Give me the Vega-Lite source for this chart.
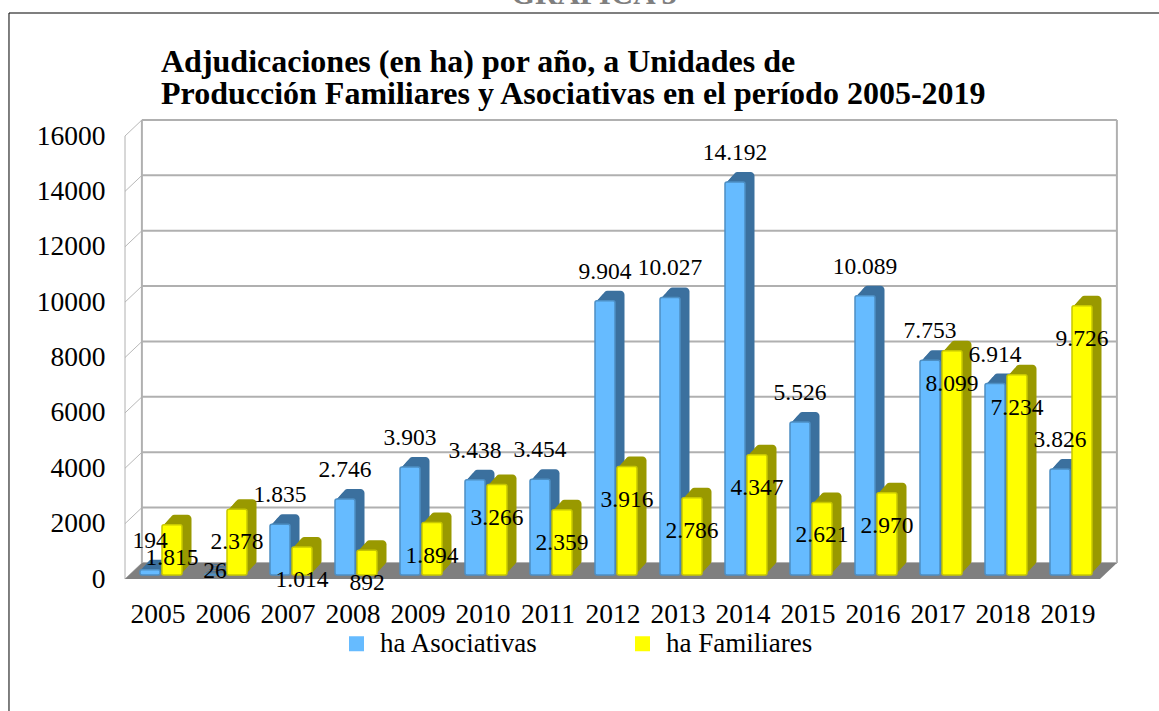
{
"$schema":"https://vega.github.io/schema/vega-lite/v6.json",
"width":975,"height":443,"autosize":{"type":"none"},
"padding":{"left":125,"top":136,"right":59,"bottom":132},
"background":"white",
"config":{"view":{"stroke":null},"locale":{"number":{"decimal":",","thousands":".","grouping":[3],"currency":["","€"]}}},
"title":{"text":["Adjudicaciones (en ha) por año, a Unidades de","Producción Familiares y Asociativas en el período 2005-2019"],"font":"Liberation Serif","fontSize":32,"fontWeight":"bold","color":"#000000","anchor":"start","frame":"group","dx":36,"offset":0,"dy":132,"lineHeight":32},
"datasets":{
"bars":[
{"year":2005,"serie":"ha Asociativas","ha":194},{"year":2006,"serie":"ha Asociativas","ha":26},{"year":2007,"serie":"ha Asociativas","ha":1835},{"year":2008,"serie":"ha Asociativas","ha":2746},{"year":2009,"serie":"ha Asociativas","ha":3903},{"year":2010,"serie":"ha Asociativas","ha":3438},{"year":2011,"serie":"ha Asociativas","ha":3454},{"year":2012,"serie":"ha Asociativas","ha":9904},{"year":2013,"serie":"ha Asociativas","ha":10027},{"year":2014,"serie":"ha Asociativas","ha":14192},{"year":2015,"serie":"ha Asociativas","ha":5526},{"year":2016,"serie":"ha Asociativas","ha":10089},{"year":2017,"serie":"ha Asociativas","ha":7753},{"year":2018,"serie":"ha Asociativas","ha":6914},{"year":2019,"serie":"ha Asociativas","ha":3826},
{"year":2005,"serie":"ha Familiares","ha":1815},{"year":2006,"serie":"ha Familiares","ha":2378},{"year":2007,"serie":"ha Familiares","ha":1014},{"year":2008,"serie":"ha Familiares","ha":892},{"year":2009,"serie":"ha Familiares","ha":1894},{"year":2010,"serie":"ha Familiares","ha":3266},{"year":2011,"serie":"ha Familiares","ha":2359},{"year":2012,"serie":"ha Familiares","ha":3916},{"year":2013,"serie":"ha Familiares","ha":2786},{"year":2014,"serie":"ha Familiares","ha":4347},{"year":2015,"serie":"ha Familiares","ha":2621},{"year":2016,"serie":"ha Familiares","ha":2970},{"year":2017,"serie":"ha Familiares","ha":8099},{"year":2018,"serie":"ha Familiares","ha":7234},{"year":2019,"serie":"ha Familiares","ha":9726}],
"grid":[{"v":0,"xa":2004.76,"xb":2019.76,"vb":578,"xl":2004.5},{"v":2000,"xa":2004.76,"xb":2019.76,"vb":2578,"xl":2004.5},{"v":4000,"xa":2004.76,"xb":2019.76,"vb":4578,"xl":2004.5},{"v":6000,"xa":2004.76,"xb":2019.76,"vb":6578,"xl":2004.5},{"v":8000,"xa":2004.76,"xb":2019.76,"vb":8578,"xl":2004.5},{"v":10000,"xa":2004.76,"xb":2019.76,"vb":10578,"xl":2004.5},{"v":12000,"xa":2004.76,"xb":2019.76,"vb":12578,"xl":2004.5},{"v":14000,"xa":2004.76,"xb":2019.76,"vb":14578,"xl":2004.5},{"v":16000,"xa":2004.76,"xb":2019.76,"vb":16578,"xl":2004.5}],
"walls":[{"px":2004.5,"a":0,"b":16000,"w":1},{"px":2004.76,"a":578,"b":16578,"w":2},{"px":2019.76,"a":578,"b":16578,"w":2}],
"floor":[{"px":2004.5,"a":0,"b":0},{"px":2004.76,"a":0,"b":578},{"px":2019.5,"a":0,"b":578},{"px":2019.76,"a":578,"b":578}]
},
"data":{"name":"bars"},
"encoding":{
"x":{"field":"year","type":"quantitative","scale":{"domain":[2004.5,2019.5],"nice":false,"zero":false,"padding":0},"axis":{"values":[2005,2006,2007,2008,2009,2010,2011,2012,2013,2014,2015,2016,2017,2018,2019],"format":"d","title":null,"domain":false,"ticks":false,"grid":false,"labelFont":"Liberation Serif","labelFontSize":27.5,"labelColor":"#000000","labelPadding":21,"labelOverlap":false,"labelFlush":false}},
"y":{"field":"ha","type":"quantitative","stack":null,"scale":{"domain":[0,16000],"nice":false,"padding":0},"axis":{"values":[0,2000,4000,6000,8000,10000,12000,14000,16000],"format":"d","title":null,"domain":false,"ticks":false,"grid":false,"labelFont":"Liberation Serif","labelFontSize":27.5,"labelColor":"#000000","labelPadding":20}}
},
"layer":[
{"data":{"name":"grid"},"mark":{"type":"rule","color":"#b0b0b0","strokeWidth":2},"encoding":{"x":{"field":"xa","type":"quantitative"},"x2":{"field":"xb"},"y":{"field":"vb","type":"quantitative"}}},
{"data":{"name":"grid"},"mark":{"type":"rule","color":"#b8b8b8","strokeWidth":1},"encoding":{"x":{"field":"xl","type":"quantitative"},"x2":{"field":"xa"},"y":{"field":"v","type":"quantitative"},"y2":{"field":"vb"}}},
{"data":{"name":"walls"},"mark":{"type":"rule","color":"#b0b0b0"},"encoding":{"x":{"field":"px","type":"quantitative"},"y":{"field":"a","type":"quantitative"},"y2":{"field":"b"},"strokeWidth":{"field":"w","type":"quantitative","scale":null}}},
{"data":{"name":"floor"},"mark":{"type":"area","color":"#7f7f7f","orient":"vertical"},"encoding":{"x":{"field":"px","type":"quantitative"},"y":{"field":"a","type":"quantitative"},"y2":{"field":"b"}}},

{"transform":[{"filter":"datum.serie=='ha Asociativas'"}],"mark":{"type":"bar","orient":"vertical","width":21,"cornerRadius":4,"fill":"#3b709e","xOffset":-6,"yOffset":-5.7,"y2Offset":-5.7},"encoding":{"y2":{"datum":0}}},
{"transform":[{"filter":"datum.serie=='ha Asociativas'"}],"mark":{"type":"bar","orient":"vertical","width":21,"cornerRadius":4,"fill":"#3b709e","xOffset":-4.5,"yOffset":-7.3,"y2Offset":-7.3},"encoding":{"y2":{"datum":0}}},
{"transform":[{"filter":"datum.serie=='ha Asociativas'"}],"mark":{"type":"bar","orient":"vertical","width":21,"cornerRadius":4,"fill":"#3b709e","xOffset":-3,"yOffset":-9,"y2Offset":-9},"encoding":{"y2":{"datum":0}}},
{"transform":[{"filter":"datum.serie=='ha Asociativas'"}],"mark":{"type":"bar","orient":"vertical","width":21,"cornerRadius":4,"fill":"#3b709e","xOffset":-1.5,"yOffset":-10.7,"y2Offset":-10.7},"encoding":{"y2":{"datum":0}}},
{"transform":[{"filter":"datum.serie=='ha Asociativas'"}],"mark":{"type":"bar","orient":"vertical","width":21,"cornerRadius":4,"fill":"#3b709e","xOffset":0,"yOffset":-12.3,"y2Offset":-12.3},"encoding":{"y2":{"datum":0}}},
{"transform":[{"filter":"datum.serie=='ha Asociativas'"}],"mark":{"type":"bar","orient":"vertical","width":21,"cornerRadius":4,"fill":"#3b709e","xOffset":1.5,"yOffset":-14,"y2Offset":-14},"encoding":{"y2":{"datum":0}}},
{"transform":[{"filter":"datum.serie=='ha Asociativas'"}],"mark":{"type":"bar","orient":"vertical","width":20,"cornerRadius":2,"stroke":"#4d8fc4","strokeWidth":1.5,"xOffset":-7.5,"yOffset":-4,"y2Offset":-4},"encoding":{"y2":{"datum":0},"color":{"field":"serie","type":"nominal","scale":{"domain":["ha Asociativas","ha Familiares"],"range":["#66bbff","#ffff00"]},"legend":{"title":null,"orient":"none","legendX":218,"legendY":494,"direction":"horizontal","columns":2,"columnPadding":90,"symbolType":"square","symbolSize":225,"symbolStrokeWidth":0,"labelFont":"Liberation Serif","labelFontSize":27,"labelColor":"#000000","labelOffset":10,"labelLimit":300}}}},

{"transform":[{"filter":"datum.serie=='ha Familiares'"}],"mark":{"type":"bar","orient":"vertical","width":21,"cornerRadius":4,"fill":"#999900","xOffset":16,"yOffset":-5.7,"y2Offset":-5.7},"encoding":{"y2":{"datum":0}}},
{"transform":[{"filter":"datum.serie=='ha Familiares'"}],"mark":{"type":"bar","orient":"vertical","width":21,"cornerRadius":4,"fill":"#999900","xOffset":17.5,"yOffset":-7.3,"y2Offset":-7.3},"encoding":{"y2":{"datum":0}}},
{"transform":[{"filter":"datum.serie=='ha Familiares'"}],"mark":{"type":"bar","orient":"vertical","width":21,"cornerRadius":4,"fill":"#999900","xOffset":19,"yOffset":-9,"y2Offset":-9},"encoding":{"y2":{"datum":0}}},
{"transform":[{"filter":"datum.serie=='ha Familiares'"}],"mark":{"type":"bar","orient":"vertical","width":21,"cornerRadius":4,"fill":"#999900","xOffset":20.5,"yOffset":-10.7,"y2Offset":-10.7},"encoding":{"y2":{"datum":0}}},
{"transform":[{"filter":"datum.serie=='ha Familiares'"}],"mark":{"type":"bar","orient":"vertical","width":21,"cornerRadius":4,"fill":"#999900","xOffset":22,"yOffset":-12.3,"y2Offset":-12.3},"encoding":{"y2":{"datum":0}}},
{"transform":[{"filter":"datum.serie=='ha Familiares'"}],"mark":{"type":"bar","orient":"vertical","width":21,"cornerRadius":4,"fill":"#999900","xOffset":23.5,"yOffset":-14,"y2Offset":-14},"encoding":{"y2":{"datum":0}}},
{"transform":[{"filter":"datum.serie=='ha Familiares'"}],"mark":{"type":"bar","orient":"vertical","width":20,"cornerRadius":2,"stroke":"#c8c800","strokeWidth":1.5,"xOffset":14.5,"yOffset":-4,"y2Offset":-4},"encoding":{"y2":{"datum":0},"color":{"field":"serie","type":"nominal"}}},

{"transform":[{"filter":"datum.serie=='ha Asociativas' && datum.ha>100"}],"mark":{"type":"text","font":"Liberation Serif","fontSize":23.5,"color":"#000000","xOffset":-7.5,"yOffset":-33,"baseline":"middle"},"encoding":{"text":{"field":"ha","type":"quantitative","format":",d"}}},
{"transform":[{"filter":"datum.serie=='ha Asociativas' && datum.ha<100"}],"mark":{"type":"text","font":"Liberation Serif","fontSize":23.5,"color":"#000000","xOffset":-7.5,"yOffset":-7,"baseline":"middle"},"encoding":{"text":{"field":"ha","type":"quantitative","format":",d"}}},
{"transform":[{"filter":"datum.serie=='ha Familiares'"}],"mark":{"type":"text","font":"Liberation Serif","fontSize":23.5,"color":"#000000","xOffset":14.5,"yOffset":29,"baseline":"middle"},"encoding":{"text":{"field":"ha","type":"quantitative","format":",d"}}},

{"data":{"values":[{"px":2002.715,"a":20442,"b":-4767}]},"mark":{"type":"rule","color":"#555555","strokeWidth":1.5},"encoding":{"x":{"field":"px","type":"quantitative"},"y":{"field":"a","type":"quantitative"},"y2":{"field":"b"}}},
{"data":{"values":[{"px":2002.715,"p2":2020.41,"a":20442}]},"mark":{"type":"rule","color":"#000000","strokeWidth":1.2},"encoding":{"x":{"field":"px","type":"quantitative"},"x2":{"field":"p2"},"y":{"field":"a","type":"quantitative"}}},
{"data":{"values":[{"px":2011.715,"a":20766,"t":"GRAFICA 5"}]},"mark":{"type":"text","font":"Liberation Serif","fontSize":31,"fontWeight":"bold","color":"#7f7f7f","align":"center","baseline":"alphabetic"},"encoding":{"x":{"field":"px","type":"quantitative"},"y":{"field":"a","type":"quantitative"},"text":{"field":"t"}}}
]
}
